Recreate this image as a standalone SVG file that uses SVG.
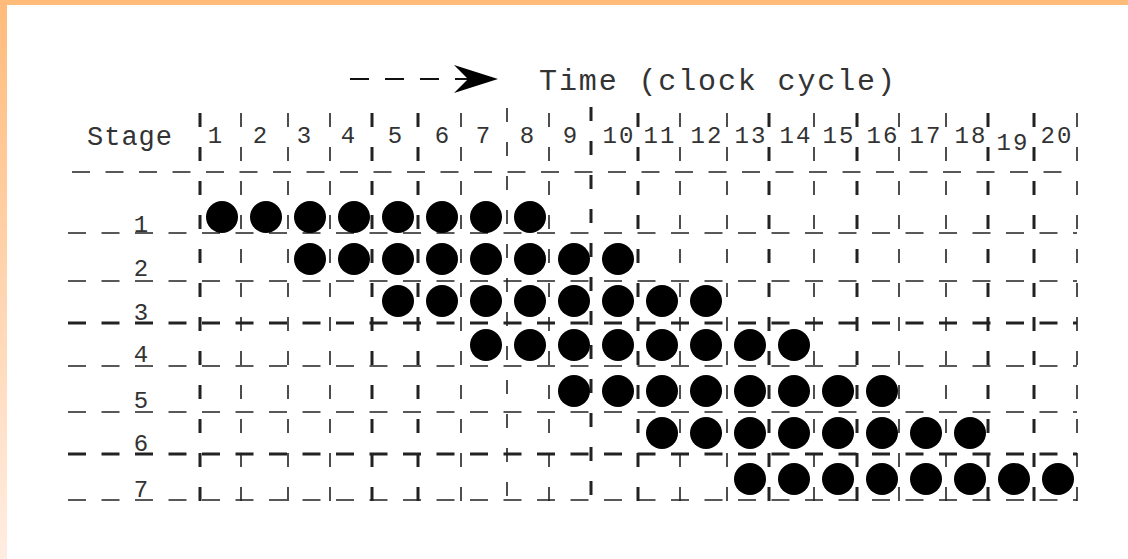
<svg xmlns="http://www.w3.org/2000/svg" width="1128" height="559" viewBox="0 0 1128 559">
  <defs>
    <linearGradient id="leftband" x1="0" y1="0" x2="0" y2="1">
      <stop offset="0" stop-color="#FFBB7A"/>
      <stop offset="1" stop-color="#FFEDE2"/>
    </linearGradient>
    <style>
      .t { font-family: "Liberation Mono", "Courier New", monospace; fill: #333; }
      .hd { stroke: #222; fill: none; stroke-dasharray: 18 15.5; }
      .vd { stroke: #222; fill: none; stroke-dasharray: 14 20; }
      .thin { stroke-width: 1.6; }
      .bold { stroke-width: 3; }
      .dot { fill: #000; }
    </style>
  </defs>
  <rect x="0" y="0" width="1128" height="559" fill="#ffffff"/>
  <rect x="0" y="0" width="7" height="559" fill="url(#leftband)"/>
  <rect x="0" y="0" width="1128" height="5" fill="#FFBB7A"/>

  <g id="title">
    <line x1="350" y1="79" x2="470" y2="79" stroke="#111" stroke-width="1.8" stroke-dasharray="19 16"/>
    <polygon points="454,65 498,79 454,93 468,79" fill="#000"/>
    <text class="t" x="539" y="90" font-size="30" textLength="356" lengthAdjust="spacing">Time (clock cycle)</text>
  </g>

  <g id="header">
    <text class="t" x="87" y="145" font-size="27" textLength="85" lengthAdjust="spacing">Stage</text>
    <g font-size="24" text-anchor="middle">
      <text class="t" x="215" y="143">1</text>
      <text class="t" x="260" y="143">2</text>
      <text class="t" x="304" y="143">3</text>
      <text class="t" x="348" y="143">4</text>
      <text class="t" x="395" y="143">5</text>
      <text class="t" x="442" y="143">6</text>
      <text class="t" x="483" y="143">7</text>
      <text class="t" x="527" y="143">8</text>
      <text class="t" x="570" y="143">9</text>
      <text class="t" x="618" y="143" textLength="31" lengthAdjust="spacing">10</text>
      <text class="t" x="659" y="143" textLength="31" lengthAdjust="spacing">11</text>
      <text class="t" x="706" y="143" textLength="31" lengthAdjust="spacing">12</text>
      <text class="t" x="750" y="143" textLength="31" lengthAdjust="spacing">13</text>
      <text class="t" x="795" y="143" textLength="31" lengthAdjust="spacing">14</text>
      <text class="t" x="838" y="143" textLength="31" lengthAdjust="spacing">15</text>
      <text class="t" x="882" y="143" textLength="31" lengthAdjust="spacing">16</text>
      <text class="t" x="925" y="143" textLength="31" lengthAdjust="spacing">17</text>
      <text class="t" x="970" y="143" textLength="31" lengthAdjust="spacing">18</text>
      <text class="t" x="1012" y="150" textLength="31" lengthAdjust="spacing">19</text>
      <text class="t" x="1056" y="143" textLength="31" lengthAdjust="spacing">20</text>
    </g>
  </g>

  <g id="row-labels" font-size="24" text-anchor="middle">
    <text class="t" x="141" y="232">1</text>
    <text class="t" x="141" y="276">2</text>
    <text class="t" x="141" y="320">3</text>
    <text class="t" x="141" y="362">4</text>
    <text class="t" x="141" y="408">5</text>
    <text class="t" x="141" y="451">6</text>
    <text class="t" x="141" y="497">7</text>
  </g>

  <g id="connectors">
    <g id="hlines">
      <line class="hd thin" x1="72" y1="172" x2="1077" y2="172"/>
      <line class="hd thin" x1="68" y1="233" x2="1077" y2="233"/>
      <line class="hd thin" x1="68" y1="281" x2="1077" y2="281"/>
      <line class="hd bold" x1="68" y1="323" x2="1077" y2="323"/>
      <line class="hd thin" x1="68" y1="366" x2="1077" y2="366"/>
      <line class="hd thin" x1="68" y1="412" x2="1077" y2="412"/>
      <line class="hd bold" x1="68" y1="454" x2="1077" y2="454"/>
      <line class="hd thin" x1="68" y1="500" x2="1077" y2="500"/>
    </g>
    <g id="vlines">
      <line class="vd bold" x1="200" y1="113" x2="200" y2="501"/>
      <line class="vd thin" x1="241" y1="113" x2="241" y2="501"/>
      <line class="vd thin" x1="288" y1="113" x2="288" y2="501"/>
      <line class="vd thin" x1="330" y1="113" x2="330" y2="501"/>
      <line class="vd bold" x1="372" y1="113" x2="372" y2="501"/>
      <line class="vd bold" x1="418" y1="113" x2="418" y2="501"/>
      <line class="vd thin" x1="461" y1="113" x2="461" y2="501"/>
      <line class="vd thin" x1="507" y1="108" x2="507" y2="501"/>
      <line class="vd thin" x1="549" y1="113" x2="549" y2="501"/>
      <line class="vd bold" x1="591" y1="107" x2="591" y2="501"/>
      <line class="vd bold" x1="638" y1="113" x2="638" y2="501"/>
      <line class="vd thin" x1="680" y1="113" x2="680" y2="501"/>
      <line class="vd thin" x1="727" y1="113" x2="727" y2="501"/>
      <line class="vd bold" x1="769" y1="113" x2="769" y2="501"/>
      <line class="vd thin" x1="814" y1="113" x2="814" y2="501"/>
      <line class="vd bold" x1="857" y1="113" x2="857" y2="501"/>
      <line class="vd thin" x1="899" y1="113" x2="899" y2="501"/>
      <line class="vd thin" x1="946" y1="113" x2="946" y2="501"/>
      <line class="vd bold" x1="988" y1="113" x2="988" y2="501"/>
      <line class="vd bold" x1="1034" y1="113" x2="1034" y2="501"/>
      <line class="vd thin" x1="1077" y1="113" x2="1077" y2="501"/>
    </g>
  </g>

  <g id="stage1">
    <circle class="dot" cx="222" cy="217" r="16"/><circle class="dot" cx="266" cy="217" r="16"/>
    <circle class="dot" cx="310" cy="217" r="16"/><circle class="dot" cx="354" cy="217" r="16"/>
    <circle class="dot" cx="398" cy="217" r="16"/><circle class="dot" cx="442" cy="217" r="16"/>
    <circle class="dot" cx="486" cy="217" r="16"/><circle class="dot" cx="530" cy="217" r="16"/>
  </g>
  <g id="stage2">
    <circle class="dot" cx="310" cy="259" r="16"/><circle class="dot" cx="354" cy="259" r="16"/>
    <circle class="dot" cx="398" cy="259" r="16"/><circle class="dot" cx="442" cy="259" r="16"/>
    <circle class="dot" cx="486" cy="259" r="16"/><circle class="dot" cx="530" cy="259" r="16"/>
    <circle class="dot" cx="574" cy="259" r="16"/><circle class="dot" cx="618" cy="259" r="16"/>
  </g>
  <g id="stage3">
    <circle class="dot" cx="398" cy="301" r="16"/><circle class="dot" cx="442" cy="301" r="16"/>
    <circle class="dot" cx="486" cy="301" r="16"/><circle class="dot" cx="530" cy="301" r="16"/>
    <circle class="dot" cx="574" cy="301" r="16"/><circle class="dot" cx="618" cy="301" r="16"/>
    <circle class="dot" cx="662" cy="301" r="16"/><circle class="dot" cx="706" cy="301" r="16"/>
  </g>
  <g id="stage4">
    <circle class="dot" cx="486" cy="345" r="16"/><circle class="dot" cx="530" cy="345" r="16"/>
    <circle class="dot" cx="574" cy="345" r="16"/><circle class="dot" cx="618" cy="345" r="16"/>
    <circle class="dot" cx="662" cy="345" r="16"/><circle class="dot" cx="706" cy="345" r="16"/>
    <circle class="dot" cx="750" cy="345" r="16"/><circle class="dot" cx="794" cy="345" r="16"/>
  </g>
  <g id="stage5">
    <circle class="dot" cx="574" cy="391" r="16"/><circle class="dot" cx="618" cy="391" r="16"/>
    <circle class="dot" cx="662" cy="391" r="16"/><circle class="dot" cx="706" cy="391" r="16"/>
    <circle class="dot" cx="750" cy="391" r="16"/><circle class="dot" cx="794" cy="391" r="16"/>
    <circle class="dot" cx="838" cy="391" r="16"/><circle class="dot" cx="882" cy="391" r="16"/>
  </g>
  <g id="stage6">
    <circle class="dot" cx="662" cy="433" r="16"/><circle class="dot" cx="706" cy="433" r="16"/>
    <circle class="dot" cx="750" cy="433" r="16"/><circle class="dot" cx="794" cy="433" r="16"/>
    <circle class="dot" cx="838" cy="433" r="16"/><circle class="dot" cx="882" cy="433" r="16"/>
    <circle class="dot" cx="926" cy="433" r="16"/><circle class="dot" cx="970" cy="433" r="16"/>
  </g>
  <g id="stage7">
    <circle class="dot" cx="750" cy="479" r="16"/><circle class="dot" cx="794" cy="479" r="16"/>
    <circle class="dot" cx="838" cy="479" r="16"/><circle class="dot" cx="882" cy="479" r="16"/>
    <circle class="dot" cx="926" cy="479" r="16"/><circle class="dot" cx="970" cy="479" r="16"/>
    <circle class="dot" cx="1014" cy="479" r="16"/><circle class="dot" cx="1058" cy="479" r="16"/>
  </g>
</svg>
